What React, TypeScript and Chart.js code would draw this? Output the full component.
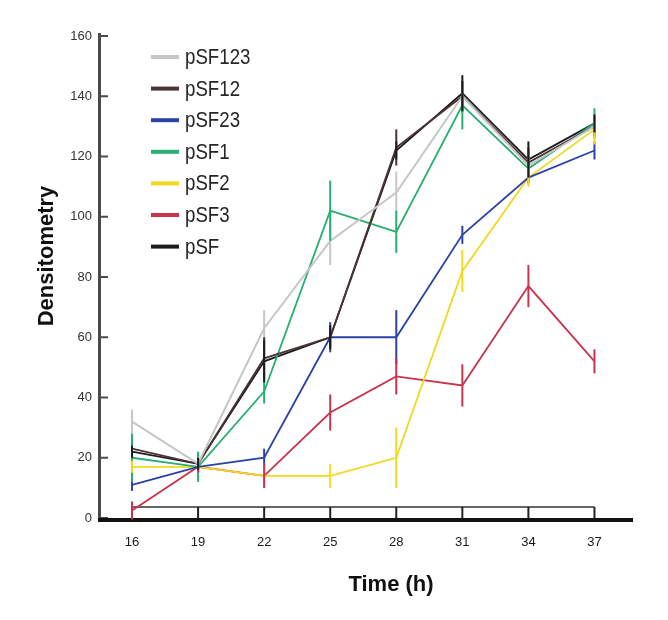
import React, { useEffect, useRef } from "react";
import { Chart, registerables } from "chart.js";

Chart.register(...registerables);

const times = [16, 19, 22, 25, 28, 31, 34, 37];
const yTicks = [0, 20, 40, 60, 80, 100, 120, 140, 160];

const seriesNames = ["pSF123", "pSF12", "pSF23", "pSF1", "pSF2", "pSF3", "pSF"];
const seriesColors = ["#c6c6c6", "#4a3434", "#2c42a4", "#28ad72", "#f2d81e", "#c8344c", "#1c1c1c"];

const pSF123 = [32, 18, 63, 92, 108, 140, 117, 130];
const pSF12 = [23, 18, 53, 60, 123, 140, 118, 130];
const pSF23 = [11, 17, 20, 60, 60, 94, 113, 122];
const pSF1 = [20, 17, 42, 102, 95, 137, 116, 131];
const pSF2 = [17, 17, 14, 14, 20, 82, 113, 129];
const pSF3 = [2.5, 17, 14, 35, 47, 44, 77, 52];
const pSF = [22, 18, 52, 60, 122, 141, 119, 131];

const pSF123Err = [4, 3, 6, 8, 7, 5, 4, 4];
const pSF12Err = [3, 2, 7, 3, 6, 5, 5, 3];
const pSF23Err = [2, 2, 3, 5, 9, 3, 2, 3];
const pSF1Err = [8, 5, 4, 10, 7, 8, 4, 5];
const pSF2Err = [2, 2, 4, 4, 10, 7, 3, 5];
const pSF3Err = [3, 2, 4, 6, 6, 7, 7, 4];
const pSFErr = [2, 2, 7, 4, 3, 6, 6, 3];

const seriesValues = [pSF123, pSF12, pSF23, pSF1, pSF2, pSF3, pSF];
const seriesErrors = [pSF123Err, pSF12Err, pSF23Err, pSF1Err, pSF2Err, pSF3Err, pSFErr];

const FONT = "'Liberation Sans', Arial, sans-serif";

const axesPlugin = {
  id: "customAxes",
  beforeDatasetsDraw(chart: any) {
    const { ctx, chartArea, scales } = chart;
    const xs = scales.x;
    const ys = scales.y;
    ctx.save();
    // y axis line
    ctx.strokeStyle = "#4a4a4a";
    ctx.lineWidth = 3;
    ctx.beginPath();
    ctx.moveTo(chartArea.left + 0.5, ys.getPixelForValue(160) - 3);
    ctx.lineTo(chartArea.left + 0.5, chartArea.bottom + 3);
    ctx.stroke();
    // y ticks (inward)
    ctx.lineWidth = 2;
    yTicks.forEach((v) => {
      const py = ys.getPixelForValue(v);
      ctx.beginPath();
      ctx.moveTo(chartArea.left, py);
      ctx.lineTo(chartArea.left + 9, py);
      ctx.stroke();
    });
    // thin inner line
    const baseY = chartArea.bottom + 2;
    ctx.strokeStyle = "#333";
    ctx.lineWidth = 1.5;
    ctx.beginPath();
    ctx.moveTo(xs.getPixelForValue(times[0]), baseY - 13);
    ctx.lineTo(xs.getPixelForValue(times[times.length - 1]), baseY - 13);
    ctx.stroke();
    // x ticks (upward)
    ctx.strokeStyle = "#222";
    ctx.lineWidth = 2;
    times.forEach((t) => {
      const px = xs.getPixelForValue(t);
      ctx.beginPath();
      ctx.moveTo(px, baseY);
      ctx.lineTo(px, baseY - 13);
      ctx.stroke();
    });
    // x axis thick line
    ctx.strokeStyle = "#111";
    ctx.lineWidth = 4;
    ctx.beginPath();
    ctx.moveTo(chartArea.left - 1, baseY);
    ctx.lineTo(chartArea.right, baseY);
    ctx.stroke();
    ctx.restore();
  },
  afterDatasetsDraw(chart: any) {
    const { ctx, scales } = chart;
    const xs = scales.x;
    const ys = scales.y;
    ctx.save();
    ctx.lineWidth = 2;
    seriesValues.forEach((vals, si) => {
      ctx.strokeStyle = seriesColors[si];
      vals.forEach((v, i) => {
        const e = seriesErrors[si][i];
        const px = xs.getPixelForValue(times[i]);
        ctx.beginPath();
        ctx.moveTo(px, ys.getPixelForValue(v - e));
        ctx.lineTo(px, ys.getPixelForValue(v + e));
        ctx.stroke();
      });
    });
    ctx.restore();
  },
  afterDraw(chart: any) {
    const { ctx } = chart;
    ctx.save();
    // legend
    chart.data.datasets.forEach((ds: any, i: number) => {
      const y = 57 + i * 31.6;
      ctx.strokeStyle = ds.borderColor;
      ctx.lineWidth = 4;
      ctx.beginPath();
      ctx.moveTo(151, y);
      ctx.lineTo(179, y);
      ctx.stroke();
      ctx.save();
      ctx.translate(185, y + 1);
      ctx.scale(0.85, 1);
      ctx.fillStyle = "#262626";
      ctx.font = `22px ${FONT}`;
      ctx.textAlign = "left";
      ctx.textBaseline = "middle";
      ctx.fillText(ds.label, 0, 0);
      ctx.restore();
    });
    // axis titles
    ctx.fillStyle = "#111";
    ctx.font = `bold 22px ${FONT}`;
    ctx.textAlign = "center";
    ctx.textBaseline = "middle";
    ctx.fillText("Time (h)", 391, 585);
    ctx.save();
    ctx.translate(47, 256);
    ctx.rotate(-Math.PI / 2);
    ctx.fillText("Densitometry", 0, 0);
    ctx.restore();
    ctx.restore();
  },
};

export default function App() {
  const ref = useRef<HTMLCanvasElement | null>(null);
  useEffect(() => {
    if (!ref.current) return;
    const chart = new Chart(ref.current, {
      type: "line",
      data: {
        datasets: seriesNames.map((name, si) => ({
          label: name,
          data: times.map((t, i) => ({ x: t, y: seriesValues[si][i] })),
          borderColor: seriesColors[si],
          backgroundColor: seriesColors[si],
          borderWidth: si === 0 ? 2 : 1.8,
          pointRadius: 0,
          tension: 0,
          fill: false,
        })),
      },
      options: {
        responsive: false,
        animation: false,
        layout: { padding: { left: 0, top: 36, right: 35, bottom: 0 } },
        plugins: { legend: { display: false }, tooltip: { enabled: false }, title: { display: false } },
        scales: {
          x: {
            type: "linear",
            min: 14.5,
            max: 38.75,
            afterBuildTicks: (s: any) => {
              s.ticks = times.map((v) => ({ value: v }));
            },
            afterFit: (s: any) => {
              s.height = 102;
            },
            grid: { display: false, drawTicks: false },
            border: { display: false },
            ticks: {
              autoSkip: false,
              maxRotation: 0,
              padding: 17,
              color: "#1a1a1a",
              font: { family: FONT, size: 13 },
              callback: (v: any) => String(v),
            },
          },
          y: {
            type: "linear",
            min: 0,
            max: 160,
            afterBuildTicks: (s: any) => {
              s.ticks = yTicks.map((v) => ({ value: v }));
            },
            afterFit: (s: any) => {
              s.width = 99;
            },
            grid: { display: false, drawTicks: false },
            border: { display: false },
            ticks: {
              padding: 7,
              color: "#333",
              font: { family: FONT, size: 13 },
            },
          },
        },
      },
      plugins: [axesPlugin],
    });
    return () => chart.destroy();
  }, []);
  return (
    <div style={{ position: "fixed", left: 0, top: 0, width: 668, height: 620, background: "#fff" }}>
      <canvas ref={ref} width={668} height={620} style={{ display: "block" }} />
    </div>
  );
}
